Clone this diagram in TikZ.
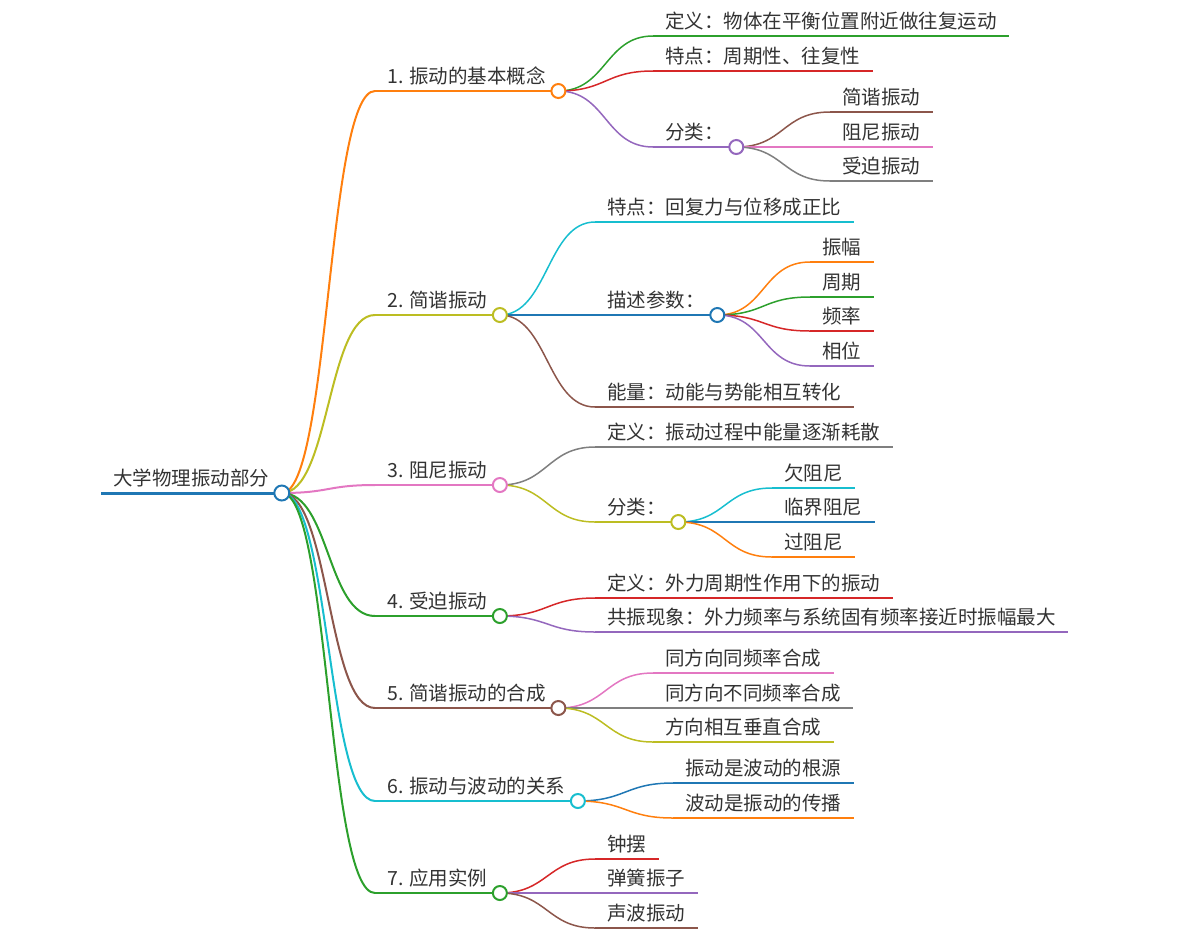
\documentclass[tikz,border=0pt]{standalone}
\usepackage{fontspec}
\setmainfont{Noto Sans CJK SC}
\usetikzlibrary{calc}
\definecolor{mmblue}{HTML}{1F77B4}
\definecolor{mmorange}{HTML}{FF7F0E}
\definecolor{mmgreen}{HTML}{2CA02C}
\definecolor{mmred}{HTML}{D62728}
\definecolor{mmpurple}{HTML}{9467BD}
\definecolor{mmbrown}{HTML}{8C564B}
\definecolor{mmpink}{HTML}{E377C2}
\definecolor{mmgray}{HTML}{7F7F7F}
\definecolor{mmolive}{HTML}{BCBD22}
\definecolor{mmcyan}{HTML}{17BECF}
\definecolor{mmtext}{HTML}{333333}
\tikzset{
  lbl/.style={inner sep=0pt, text=mmtext, font=\fontsize{9.75pt}{11pt}\selectfont},
  lvroot/.style={line width=1.5pt},
  lvone/.style={line width=1pt},
  lvtwo/.style={line width=0.75pt},
  dot/.style={circle, fill=white, line width=1pt, minimum size=7pt, inner sep=0pt},
  rootdot/.style={dot, minimum size=7.5pt},
}
% name, x, y, colour, width, text
\newcommand{\mmitem}[6]{%
  \coordinate (#1-s) at (#2,#3);
  \node[lbl, anchor=base west] (#1) at (#2+12,#3-8) {#6};
  \coordinate (#1-e) at ($(#1.east |- #1-s)+(12,0)$);
  \draw[#4, #5] (#1-s) -- (#1-e);
}
% parent, child, colour, width
\newcommand{\mmlink}[4]{%
  \draw[#3, #4] (#1-e) .. controls +(48,0) and +(-48,0) .. (#2-s);
}

\begin{document}
\begin{tikzpicture}[x=0.5pt, y=-0.5pt]
  \useasboundingbox (0,0) rectangle (1192,938);

  \mmitem{root}{101}{493}{mmblue}{lvroot}{大学物理振动部分}

  \mmitem{gn}{375}{91}{mmorange}{lvone}{1. 振动的基本概念}
  \mmitem{jx}{375}{315}{mmolive}{lvone}{2. 简谐振动}
  \mmitem{zn}{375}{485}{mmpink}{lvone}{3. 阻尼振动}
  \mmitem{sp}{375}{616}{mmgreen}{lvone}{4. 受迫振动}
  \mmitem{hc}{375}{708}{mmbrown}{lvone}{5. 简谐振动的合成}
  \mmitem{bd}{375}{801}{mmcyan}{lvone}{6. 振动与波动的关系}
  \mmitem{yy}{375}{893}{mmgreen}{lvone}{7. 应用实例}

  \mmitem{gn1}{653}{36}{mmgreen}{lvtwo}{定义：物体在平衡位置附近做往复运动}
  \mmitem{gn2}{653}{71}{mmred}{lvtwo}{特点：周期性、往复性}
  \mmitem{gn3}{653}{147}{mmpurple}{lvtwo}{分类：}
  \mmitem{gn31}{830}{112}{mmbrown}{lvtwo}{简谐振动}
  \mmitem{gn32}{830}{147}{mmpink}{lvtwo}{阻尼振动}
  \mmitem{gn33}{830}{181}{mmgray}{lvtwo}{受迫振动}

  \mmitem{jx1}{595}{222}{mmcyan}{lvtwo}{特点：回复力与位移成正比}
  \mmitem{jx2}{595}{315}{mmblue}{lvtwo}{描述参数：}
  \mmitem{jx21}{810}{262}{mmorange}{lvtwo}{振幅}
  \mmitem{jx22}{810}{297}{mmgreen}{lvtwo}{周期}
  \mmitem{jx23}{810}{331}{mmred}{lvtwo}{频率}
  \mmitem{jx24}{810}{366}{mmpurple}{lvtwo}{相位}
  \mmitem{jx3}{595}{407}{mmbrown}{lvtwo}{能量：动能与势能相互转化}

  \mmitem{zn1}{595}{447}{mmgray}{lvtwo}{定义：振动过程中能量逐渐耗散}
  \mmitem{zn2}{595}{522}{mmolive}{lvtwo}{分类：}
  \mmitem{zn21}{772}{488}{mmcyan}{lvtwo}{欠阻尼}
  \mmitem{zn22}{772}{522}{mmblue}{lvtwo}{临界阻尼}
  \mmitem{zn23}{772}{557}{mmorange}{lvtwo}{过阻尼}

  \mmitem{sp1}{595}{598}{mmred}{lvtwo}{定义：外力周期性作用下的振动}
  \mmitem{sp2}{595}{632}{mmpurple}{lvtwo}{共振现象：外力频率与系统固有频率接近时振幅最大}

  \mmitem{hc1}{653}{673}{mmpink}{lvtwo}{同方向同频率合成}
  \mmitem{hc2}{653}{708}{mmgray}{lvtwo}{同方向不同频率合成}
  \mmitem{hc3}{653}{742}{mmolive}{lvtwo}{方向相互垂直合成}

  \mmitem{bd1}{673}{783}{mmblue}{lvtwo}{振动是波动的根源}
  \mmitem{bd2}{673}{818}{mmorange}{lvtwo}{波动是振动的传播}

  \mmitem{yy1}{595}{859}{mmred}{lvtwo}{钟摆}
  \mmitem{yy2}{595}{893}{mmpurple}{lvtwo}{弹簧振子}
  \mmitem{yy3}{595}{928}{mmbrown}{lvtwo}{声波振动}

  \foreach \ch/\col in {gn/mmorange, jx/mmolive, zn/mmpink, sp/mmgreen,
                        hc/mmbrown, bd/mmcyan, yy/mmgreen}
    \mmlink{root}{\ch}{\col}{lvone};

  \mmlink{gn}{gn1}{mmgreen}{lvtwo}
  \mmlink{gn}{gn2}{mmred}{lvtwo}
  \mmlink{gn}{gn3}{mmpurple}{lvtwo}
  \mmlink{gn3}{gn31}{mmbrown}{lvtwo}
  \mmlink{gn3}{gn32}{mmpink}{lvtwo}
  \mmlink{gn3}{gn33}{mmgray}{lvtwo}

  \mmlink{jx}{jx1}{mmcyan}{lvtwo}
  \mmlink{jx}{jx2}{mmblue}{lvtwo}
  \mmlink{jx}{jx3}{mmbrown}{lvtwo}
  \mmlink{jx2}{jx21}{mmorange}{lvtwo}
  \mmlink{jx2}{jx22}{mmgreen}{lvtwo}
  \mmlink{jx2}{jx23}{mmred}{lvtwo}
  \mmlink{jx2}{jx24}{mmpurple}{lvtwo}

  \mmlink{zn}{zn1}{mmgray}{lvtwo}
  \mmlink{zn}{zn2}{mmolive}{lvtwo}
  \mmlink{zn2}{zn21}{mmcyan}{lvtwo}
  \mmlink{zn2}{zn22}{mmblue}{lvtwo}
  \mmlink{zn2}{zn23}{mmorange}{lvtwo}

  \mmlink{sp}{sp1}{mmred}{lvtwo}
  \mmlink{sp}{sp2}{mmpurple}{lvtwo}

  \mmlink{hc}{hc1}{mmpink}{lvtwo}
  \mmlink{hc}{hc2}{mmgray}{lvtwo}
  \mmlink{hc}{hc3}{mmolive}{lvtwo}

  \mmlink{bd}{bd1}{mmblue}{lvtwo}
  \mmlink{bd}{bd2}{mmorange}{lvtwo}

  \mmlink{yy}{yy1}{mmred}{lvtwo}
  \mmlink{yy}{yy2}{mmpurple}{lvtwo}
  \mmlink{yy}{yy3}{mmbrown}{lvtwo}

  \node[rootdot, draw=mmblue] (rootc) at (root-e) {};
  \foreach \nd/\col in {gn/mmorange, jx/mmolive, zn/mmpink, sp/mmgreen,
                        hc/mmbrown, bd/mmcyan, yy/mmgreen, gn3/mmpurple,
                        jx2/mmblue, zn2/mmolive}
    \node[dot, draw=\col] (\nd c) at (\nd-e) {};
\end{tikzpicture}
\end{document}
